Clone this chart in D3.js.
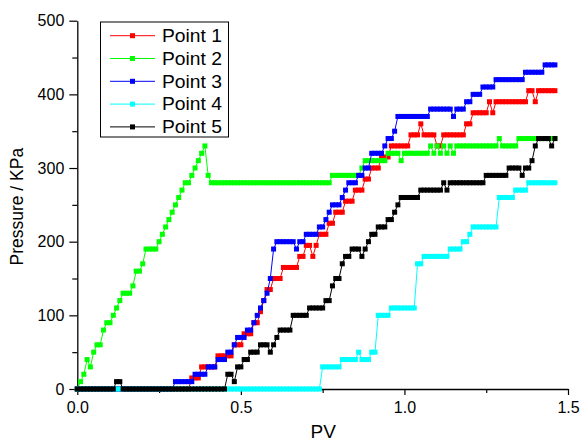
<!DOCTYPE html>
<html><head><meta charset="utf-8">
<script src="https://cdn.jsdelivr.net/npm/d3@7"></script>
<style>
body{margin:0;background:#fff}
svg{display:block}
text{font-family:"Liberation Sans", Arial, sans-serif;fill:#000}
</style>
</head><body>
<svg id="chart" width="587" height="441"></svg>
<script>
// Shared PV sampling (x values)
const pv = [
0.00,0.01,0.02,0.03,0.04,0.05,0.06,0.07,0.08,0.09,
0.10,0.11,0.12,0.13,0.14,0.15,0.16,0.17,0.18,0.19,
0.20,0.21,0.22,0.23,0.24,0.25,0.26,0.27,0.28,0.29,
0.30,0.31,0.32,0.33,0.34,0.35,0.36,0.37,0.38,0.39,
0.40,0.41,0.42,0.43,0.44,0.45,0.46,0.47,0.48,0.49,
0.50,0.51,0.52,0.53,0.54,0.55,0.56,0.57,0.58,0.59,
0.60,0.61,0.62,0.63,0.64,0.65,0.66,0.67,0.68,0.69,
0.70,0.71,0.72,0.73,0.74,0.75,0.76,0.77,0.78,0.79,
0.80,0.81,0.82,0.83,0.84,0.85,0.86,0.87,0.88,0.89,
0.90,0.91,0.92,0.93,0.94,0.95,0.96,0.97,0.98,0.99,
1.00,1.01,1.02,1.03,1.04,1.05,1.06,1.07,1.08,1.09,
1.10,1.11,1.12,1.13,1.14,1.15,1.16,1.17,1.18,1.19,
1.20,1.21,1.22,1.23,1.24,1.25,1.26,1.27,1.28,1.29,
1.30,1.31,1.32,1.33,1.34,1.35,1.36,1.37,1.38,1.39,
1.40,1.41,1.42,1.43,1.44,1.45,1.46];

const point1 = [
0,0,0,0,0,0,0,0,0,0,
0,0,0,0,0,0,0,0,0,0,
0,0,0,0,0,0,0,0,0,0,
0,0,0,0,0,15,15,15,30,30,
30,30,30,45,45,45,45,45,60,60,
60,75,75,75,90,90,105,120,135,135,
150,150,150,165,165,165,165,165,180,180,
195,195,180,195,210,210,210,225,225,240,
240,240,255,255,255,270,270,270,285,285,
300,300,300,315,315,315,330,330,330,330,
330,330,345,345,345,360,345,345,345,345,
330,330,345,345,345,345,345,345,345,360,
360,375,375,375,375,375,390,375,390,390,
390,390,390,390,390,390,390,390,405,405,
390,405,405,405,405,405,405];

const point2 = [
0,10,20,40,30,50,60,60,80,90,
90,100,110,120,130,130,130,140,160,160,
170,190,190,190,190,200,210,220,230,240,
250,260,270,280,280,290,300,310,320,330,
290,280,280,280,280,280,280,280,280,280,
280,280,280,280,280,280,280,280,280,280,
280,280,280,280,280,280,280,280,280,280,
280,280,280,280,280,280,280,280,290,290,
290,290,290,290,290,290,290,300,310,310,
310,310,310,310,310,320,320,320,320,310,
320,320,320,320,320,320,320,320,330,320,
330,320,330,320,330,320,330,330,330,330,
330,330,330,330,330,330,330,330,330,340,
330,330,330,330,330,340,340,340,340,340,
340,340,340,340,340,340,340];

const point3 = [
0,0,0,0,0,0,0,0,0,0,
0,0,0,0,0,0,0,0,0,0,
0,0,0,0,0,0,0,0,0,0,
10,10,10,10,10,10,20,20,20,20,
30,30,30,40,40,40,50,50,60,70,
70,70,80,80,90,100,110,120,130,150,
190,200,200,200,200,200,200,190,200,200,
210,210,210,210,220,220,230,240,250,250,
250,260,270,280,280,280,290,290,300,300,
320,320,320,320,330,340,340,350,370,370,
370,370,370,370,370,370,370,370,380,380,
380,380,380,380,380,370,380,380,380,390,
390,400,400,400,410,410,410,410,420,420,
420,420,420,420,420,420,420,430,430,430,
430,430,430,440,440,440,440];

const point4 = [
0,0,0,0,0,0,0,0,0,0,
0,0,0,0,0,0,0,0,0,0,
0,0,0,0,0,0,0,0,0,0,
0,0,0,0,0,0,0,0,0,0,
0,0,0,0,0,0,0,0,0,0,
0,0,0,0,0,0,0,0,0,0,
0,0,0,0,0,0,0,0,0,0,
0,0,0,0,0,30,30,30,30,30,
30,40,40,40,40,40,50,40,40,40,
50,50,100,100,100,100,110,110,110,110,
110,110,110,110,170,170,180,180,180,180,
180,180,180,180,190,190,190,190,200,200,
210,220,220,220,220,220,220,220,220,260,
260,260,260,260,270,270,270,270,280,280,
280,280,280,280,280,280,280];

const point5 = [
0,0,0,0,0,0,0,0,0,0,
0,0,10,10,0,0,0,0,0,0,
0,0,0,0,0,0,0,0,0,0,
0,0,0,0,0,0,0,0,0,0,
0,0,0,0,0,0,20,20,10,30,
30,40,40,50,50,50,60,60,60,50,
60,70,80,80,80,80,100,100,100,100,
100,110,110,110,110,110,120,120,140,150,
150,170,180,180,190,190,190,180,190,200,
210,210,220,220,220,230,230,240,250,260,
260,260,260,260,260,270,270,270,270,270,
270,270,280,270,280,280,280,280,280,280,
280,280,280,280,280,290,290,290,290,290,
290,290,300,300,300,300,290,300,300,310,
330,340,340,340,340,330,340];

const seriesNames = ["Point 1","Point 2","Point 3","Point 4","Point 5"];
const seriesColors = ["#FF0000","#00FF00","#0000FF","#00FFFF","#000000"];
const seriesValues = [point1, point2, point3, point4, point5];

const yMajorTicks = [0,100,200,300,400,500];
const yMinorTicks = [50,150,250,350,450];
const xMajorTicks = [0,0.5,1.0,1.5];
const xTickLabels = ["0.0","0.5","1.0","1.5"];
const xMinorTicks = [0.25,0.75,1.25];

const svg = d3.select("#chart");
const x = d3.scaleLinear().domain([0,1.5]).range([77.3,568]);
const y = d3.scaleLinear().domain([0,500]).range([389,20.7]);

// Axes
svg.append("g").attr("transform","translate(77.3,0)")
  .call(d3.axisLeft(y).tickValues(yMajorTicks).tickSize(8).tickSizeOuter(0).tickPadding(5).tickFormat(d3.format("d")));
const yAxisMinor = svg.append("g").attr("transform","translate(77.3,0)")
  .call(d3.axisLeft(y).tickValues(yMinorTicks).tickSize(5).tickSizeOuter(0).tickFormat(""));
yAxisMinor.select(".domain").remove();

svg.append("g").attr("transform","translate(0,389)")
  .call(d3.axisBottom(x).tickValues(xMajorTicks).tickSize(6).tickSizeOuter(0).tickPadding(6.5)
    .tickFormat((d,i)=>xTickLabels[i]));
const xAxisMinor = svg.append("g").attr("transform","translate(0,389)")
  .call(d3.axisBottom(x).tickValues(xMinorTicks).tickSize(4).tickSizeOuter(0).tickFormat(""));
xAxisMinor.select(".domain").remove();

svg.selectAll(".domain").attr("stroke","#000").attr("stroke-width",1.3);
svg.selectAll(".tick line").attr("stroke","#000").attr("stroke-width",1.2);
svg.selectAll(".tick text").attr("font-size","16px").attr("font-family","Liberation Sans, Arial, sans-serif").attr("fill","#000");

// Axis titles
svg.append("text").attr("transform","translate(23,206.7) rotate(-90)")
  .attr("text-anchor","middle").attr("font-size","17.5px").text("Pressure / KPa");
svg.append("text").attr("x",323.3).attr("y",438)
  .attr("text-anchor","middle").attr("font-size","19px").text("PV");

// Data
const plot = svg.append("g");
const line = d3.line().x(d=>x(d[0])).y(d=>y(d[1]));
const msize = 5;
seriesValues.forEach((vals, si) => {
  const pts = pv.map((p,i)=>[p, vals[i]]);
  const g = plot.append("g");
  g.append("path").datum(pts).attr("d", line)
    .attr("fill","none").attr("stroke", seriesColors[si]).attr("stroke-width",1);
  g.selectAll("rect").data(pts).enter().append("rect")
    .attr("x", d=>x(d[0])-msize/2).attr("y", d=>y(d[1])-msize/2)
    .attr("width", msize).attr("height", msize).attr("fill", seriesColors[si]);
});

// Legend
const lg = svg.append("g");
lg.append("rect").attr("x",100.5).attr("y",22).attr("width",128).attr("height",115)
  .attr("fill","#fff").attr("stroke","#000").attr("stroke-width",1);
seriesNames.forEach((name, i) => {
  const cy = 35.7 + i*22.8;
  lg.append("line").attr("x1",110).attr("x2",155).attr("y1",cy).attr("y2",cy)
    .attr("stroke", seriesColors[i]).attr("stroke-width",1);
  lg.append("rect").attr("x",132.5-msize/2).attr("y",cy-msize/2).attr("width",msize).attr("height",msize)
    .attr("fill", seriesColors[i]);
  lg.append("text").attr("x",162).attr("y",cy).attr("dy","0.36em")
    .attr("font-size","17.5px").attr("textLength",60).attr("lengthAdjust","spacingAndGlyphs").text(name);
});
</script>
</body></html>
